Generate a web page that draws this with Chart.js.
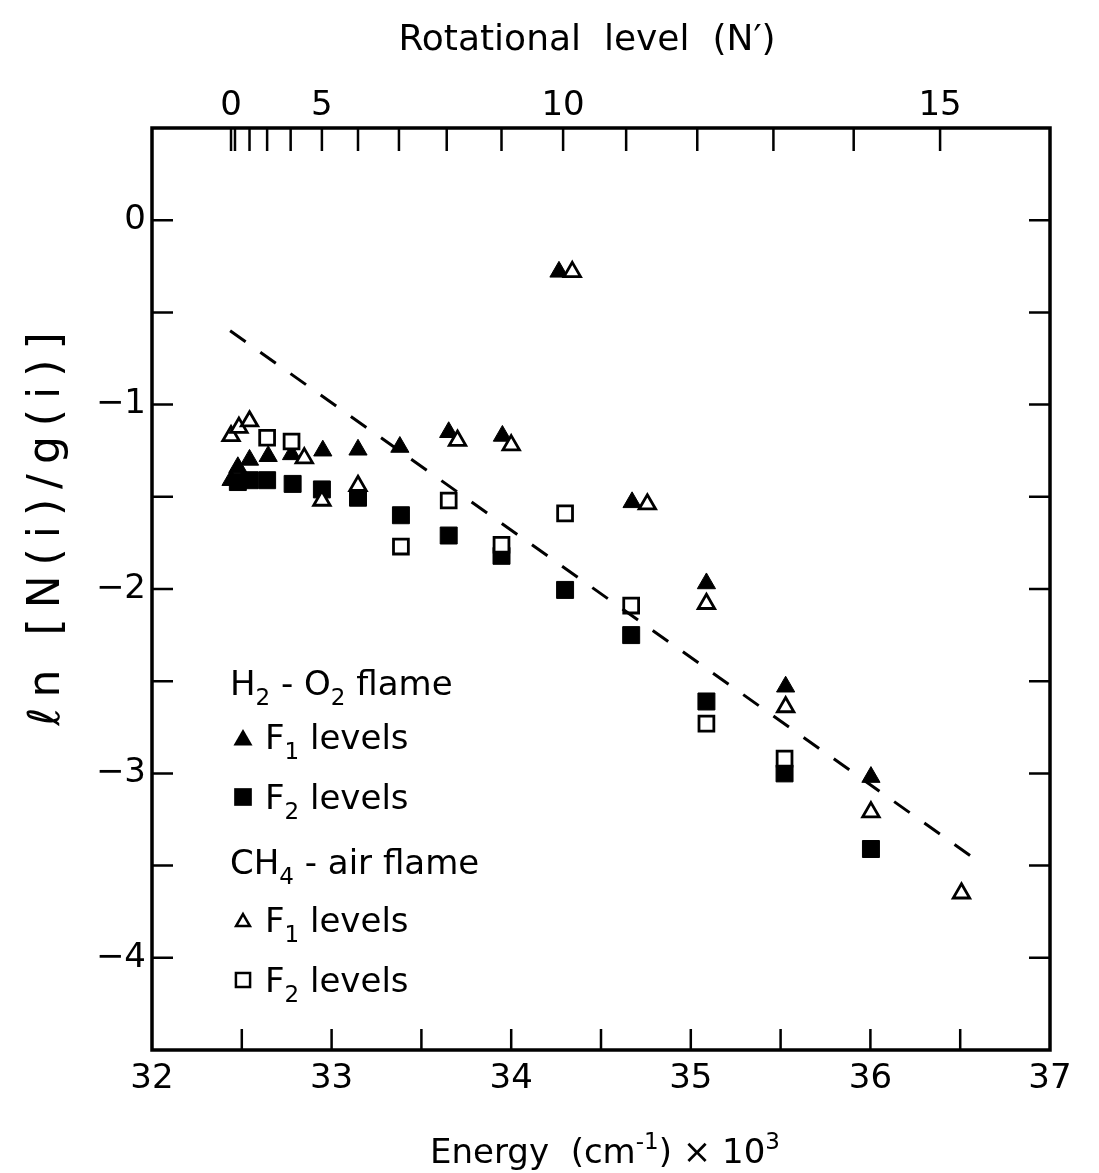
<!DOCTYPE html>
<html>
<head>
<meta charset="utf-8">
<script src="https://cdn.jsdelivr.net/npm/chart.js@4/dist/chart.umd.min.js"></script>
<style>
html,body{margin:0;padding:0;background:#fff;}
#wrap{width:1099px;height:1173px;position:relative;}
</style>
</head>
<body>
<div id="wrap"><canvas id="c" width="1099" height="1173"></canvas></div>
<script>
// ---------- data (energy in 10^3 cm^-1, ln[N(i)/g(i)]) ----------
const h2o2F1Energy = [32.44, 32.478, 32.543, 32.647, 32.777, 32.951, 33.147, 33.38, 33.652, 33.951, 34.266, 34.673, 35.087, 35.528, 36.003];
const h2o2F1Ln     = [-1.41, -1.34, -1.30, -1.28, -1.27, -1.25, -1.245, -1.23, -1.15, -1.17, -0.28, -1.53, -1.97, -2.53, -3.02];

const h2o2F2Energy = [32.478, 32.543, 32.641, 32.783, 32.946, 33.147, 33.386, 33.652, 33.946, 34.30, 34.668, 35.087, 35.522, 36.003];
const h2o2F2Ln     = [-1.42, -1.41, -1.41, -1.43, -1.46, -1.505, -1.60, -1.71, -1.82, -2.005, -2.25, -2.61, -3.00, -3.41];

const ch4F1Energy = [32.44, 32.484, 32.543, 32.848, 32.946, 33.147, 33.701, 34.00, 34.34, 34.758, 35.087, 35.528, 36.003, 36.507];
const ch4F1Ln     = [-1.17, -1.125, -1.09, -1.29, -1.52, -1.44, -1.195, -1.22, -0.28, -1.54, -2.08, -2.64, -3.21, -3.65];

const ch4F2Energy = [32.641, 32.777, 33.386, 33.652, 33.946, 34.30, 34.668, 35.087, 35.522];
const ch4F2Ln     = [-1.18, -1.20, -1.77, -1.52, -1.76, -1.59, -2.09, -2.73, -2.92];

const fitEnergy = [32.435, 36.62];
const fitLn     = [-0.60, -3.49];

// ---------- ticks ----------
const energyTickValues = [32, 33, 34, 35, 36, 37];
const energyTickLabels = ['32', '33', '34', '35', '36', '37'];
const energyMinorTicks = [32.5, 33, 33.5, 34, 34.5, 35, 35.5, 36, 36.5];

const lnTickValues = [-4, -3, -2, -1, 0];
const lnTickLabels = ['\u22124', '\u22123', '\u22122', '\u22121', '0'];
const lnMinorTicks = [-4, -3.5, -3, -2.5, -2, -1.5, -1, -0.5, 0];

// rotational level N' (0..15) energies on the top axis
const rotTickEnergy = [32.440, 32.462, 32.543, 32.641, 32.772, 32.946, 33.147, 33.375, 33.641, 33.946, 34.289, 34.640, 35.036, 35.460, 35.907, 36.388];
const rotTickLabels = ['0', '', '', '', '', '5', '', '', '', '', '10', '', '', '', '', '15'];

const fontFam = "'DejaVu Sans', 'Liberation Sans', sans-serif";

function pts(xs, ys) { return xs.map((x, i) => ({ x: x, y: ys[i] })); }

// text with sub/superscripts, drawn as real text pieces
function drawRich(ctx, segs, x, y, size, align) {
  const small = Math.round(size * 0.68);
  let total = 0;
  const widths = segs.map(s => {
    ctx.font = ((s.sub || s.sup) ? small : size) + 'px ' + fontFam;
    const w = ctx.measureText(s.t).width;
    total += w;
    return w;
  });
  let cx = align === 'center' ? x - total / 2 : x;
  ctx.textAlign = 'left';
  ctx.textBaseline = 'alphabetic';
  segs.forEach((s, i) => {
    ctx.font = ((s.sub || s.sup) ? small : size) + 'px ' + fontFam;
    let dy = 0;
    if (s.sub) dy = size * 0.30;
    if (s.sup) dy = -size * 0.42;
    ctx.fillText(s.t, cx, y + dy);
    cx += widths[i];
  });
}

function drawMarker(ctx, style, filled, x, y, r, lw) {
  ctx.beginPath();
  if (style === 'triangle') {
    const s = Math.sin(2 * Math.PI / 3) * r;
    ctx.moveTo(x, y - r);
    ctx.lineTo(x + s, y + r * 0.5);
    ctx.lineTo(x - s, y + r * 0.5);
    ctx.closePath();
  } else {
    const s = r * Math.SQRT1_2;
    ctx.rect(x - s, y - s, 2 * s, 2 * s);
  }
  if (filled) {
    ctx.fillStyle = '#000'; ctx.fill();
  } else {
    ctx.fillStyle = '#fff'; ctx.fill();
    ctx.lineWidth = lw; ctx.strokeStyle = '#000'; ctx.stroke();
  }
  ctx.fillStyle = '#000';
}

const decorPlugin = {
  id: 'decor',
  afterDraw(chart) {
    const ctx = chart.ctx;
    const { left, right, top, bottom } = chart.chartArea;
    const sx = chart.scales.x, sx2 = chart.scales.x2, sy = chart.scales.y;
    ctx.save();
    ctx.strokeStyle = '#000';
    ctx.lineWidth = 3.5;
    ctx.strokeRect(left, top, right - left, bottom - top);
    ctx.lineWidth = 2.5;
    ctx.beginPath();
    energyMinorTicks.forEach(v => {
      const px = sx.getPixelForValue(v);
      ctx.moveTo(px, bottom); ctx.lineTo(px, bottom - 21);
    });
    rotTickEnergy.forEach(v => {
      const px = sx2.getPixelForValue(v);
      ctx.moveTo(px, top); ctx.lineTo(px, top + 23);
    });
    lnMinorTicks.forEach(v => {
      const py = sy.getPixelForValue(v);
      ctx.moveTo(left, py); ctx.lineTo(left + 21, py);
      ctx.moveTo(right, py); ctx.lineTo(right - 21, py);
    });
    ctx.stroke();
    ctx.fillStyle = '#000';

    // top axis title
    ctx.font = '36px ' + fontFam;
    ctx.textAlign = 'center';
    ctx.textBaseline = 'alphabetic';
    ctx.fillText('Rotational  level  (N\u2032)', 587, 50);

    // bottom axis title
    drawRich(ctx, [
      { t: 'Energy  (cm' }, { t: '-1', sup: true }, { t: ') \u00D7 10' }, { t: '3', sup: true }
    ], 430, 1163, 34, 'left');

    // y-axis title
    ctx.save();
    ctx.translate(48, 529);
    ctx.rotate(-Math.PI / 2);
    ctx.textAlign = 'center';
    ctx.textBaseline = 'middle';
    ctx.font = '44px ' + fontFam;
    try { ctx.letterSpacing = '10px'; } catch (e) {}
    ctx.fillText('\u2113n [N(i)/g(i)]', 5, 0);
    try { ctx.letterSpacing = '0px'; } catch (e) {}
    ctx.restore();

    // legend
    const lx = left + 78, mx = left + 91, tx = left + 113;
    drawRich(ctx, [{ t: 'H' }, { t: '2', sub: true }, { t: ' - O' }, { t: '2', sub: true }, { t: ' flame' }], lx, 695, 34, 'left');
    drawMarker(ctx, 'triangle', true, mx, 740, 11, 0);
    drawRich(ctx, [{ t: 'F' }, { t: '1', sub: true }, { t: ' levels' }], tx, 749, 34, 'left');
    drawMarker(ctx, 'rect', true, mx, 797, 12.5, 0);
    drawRich(ctx, [{ t: 'F' }, { t: '2', sub: true }, { t: ' levels' }], tx, 809, 34, 'left');
    drawRich(ctx, [{ t: 'CH' }, { t: '4', sub: true }, { t: ' - air flame' }], lx, 874, 34, 'left');
    drawMarker(ctx, 'triangle', false, mx, 922, 8, 2.5);
    drawRich(ctx, [{ t: 'F' }, { t: '1', sub: true }, { t: ' levels' }], tx, 932, 34, 'left');
    drawMarker(ctx, 'rect', false, mx, 980, 10, 2.5);
    drawRich(ctx, [{ t: 'F' }, { t: '2', sub: true }, { t: ' levels' }], tx, 992, 34, 'left');
    ctx.restore();
  }
};

new Chart(document.getElementById('c'), {
  type: 'scatter',
  data: {
    datasets: [
      {
        label: 'H2-O2 flame F1 levels', data: pts(h2o2F1Energy, h2o2F1Ln),
        pointStyle: 'triangle', pointRadius: 10.5, backgroundColor: '#000', borderColor: '#000', borderWidth: 1, order: 3
      },
      {
        label: 'H2-O2 flame F2 levels', data: pts(h2o2F2Energy, h2o2F2Ln),
        pointStyle: 'rect', pointRadius: 12, backgroundColor: '#000', borderColor: '#000', borderWidth: 1, order: 3
      },
      {
        label: 'CH4-air flame F1 levels', data: pts(ch4F1Energy, ch4F1Ln),
        pointStyle: 'triangle', pointRadius: 9.5, backgroundColor: '#fff', borderColor: '#000', borderWidth: 2.8, order: 2
      },
      {
        label: 'CH4-air flame F2 levels', data: pts(ch4F2Energy, ch4F2Ln),
        pointStyle: 'rect', pointRadius: 10.5, backgroundColor: '#fff', borderColor: '#000', borderWidth: 2.8, order: 2
      },
      {
        label: 'fit', data: pts(fitEnergy, fitLn), showLine: true, pointRadius: 0,
        borderColor: '#000', borderWidth: 3, borderDash: [19, 18], fill: false, order: 1
      }
    ]
  },
  options: {
    responsive: false,
    animation: false,
    devicePixelRatio: 1,
    layout: { padding: { left: 0, right: 49, top: 0, bottom: 0 } },
    plugins: { legend: { display: false }, tooltip: { enabled: false } },
    scales: {
      x: {
        type: 'linear', position: 'bottom', min: 32, max: 37,
        grid: { display: false, drawTicks: false }, border: { display: false },
        afterBuildTicks: s => { s.ticks = energyTickValues.map(v => ({ value: v })); },
        ticks: {
          autoSkip: false, maxRotation: 0, color: '#000', padding: 9,
          font: { family: fontFam, size: 34 },
          callback: v => energyTickLabels[energyTickValues.indexOf(v)]
        },
        afterFit: s => { s.height = 123; }
      },
      x2: {
        type: 'linear', position: 'top', min: 32, max: 37,
        grid: { display: false, drawTicks: false }, border: { display: false },
        afterBuildTicks: s => { s.ticks = rotTickEnergy.map(v => ({ value: v })); },
        ticks: {
          autoSkip: false, maxRotation: 0, color: '#000', padding: 1,
          font: { family: fontFam, size: 34 },
          callback: (v, i) => rotTickLabels[i]
        },
        afterFit: s => { s.height = 128; }
      },
      y: {
        type: 'linear', position: 'left', min: -4.5, max: 0.5,
        grid: { display: false, drawTicks: false }, border: { display: false },
        afterBuildTicks: s => { s.ticks = lnTickValues.map(v => ({ value: v })); },
        ticks: {
          autoSkip: false, color: '#000', padding: 6,
          font: { family: fontFam, size: 34 },
          callback: v => lnTickLabels[lnTickValues.indexOf(v)]
        },
        afterFit: s => { s.width = 152; }
      }
    }
  },
  plugins: [decorPlugin]
});
</script>
</body>
</html>
